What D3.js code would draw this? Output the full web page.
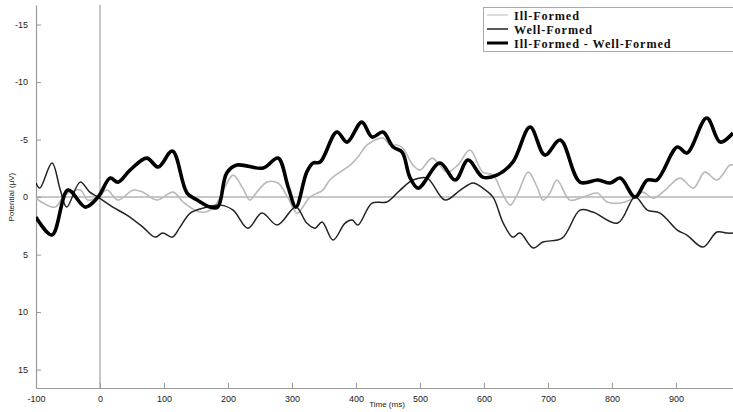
<!DOCTYPE html>
<html>
<head>
<meta charset="utf-8">
<script src="https://cdn.jsdelivr.net/npm/d3@7"></script>
<style>
  body { margin: 0; background: #fff; }
  svg { display: block; }
  .tick text { font-family: Arial, 'Liberation Sans', sans-serif; }
</style>
</head>
<body>
<div id="chart"></div>
<script>
// time (ms) / potential (µV)
const illTimes = [-100, -89, -70, -55, -31, -19, -3, 11, 28, 52, 67, 89, 114, 130, 156, 177, 195, 208, 223, 234, 245, 261, 278, 294, 308, 328, 348, 359, 375, 391, 403, 417, 442, 453, 464, 473, 489, 500, 519, 542, 559, 578, 598, 614, 630, 641, 653, 669, 683, 692, 703, 714, 734, 755, 777, 792, 813, 828, 836, 848, 864, 883, 906, 927, 945, 964, 984, 989]
const illValues = [0.09, 0.52, 0.87, -0.17, -0.61, 0.26, 0, -0.61, 0.26, -0.61, -0.43, 0.26, -0.43, 0.43, 1.30, 0.96, -0.87, -1.91, -0.78, 0.26, -0.43, -1.30, -1.22, 0.09, 1.39, 0, -0.61, -1.48, -2.17, -2.78, -3.48, -4.52, -5.13, -4.52, -4.52, -4.26, -2.78, -2.35, -3.39, -2.17, -2.78, -4.09, -2.17, -1.91, -0.17, 0.70, -0.35, -2.17, -0.87, 0.26, -0.35, -1.48, 0.26, 0, -0.35, 0.43, 0.52, 0.26, 0, -0.43, 0.09, -0.61, -1.65, -0.78, -2.17, -1.48, -2.78, -2.78]

const wellTimes = [-100, -94, -75, -62, -52, -31, -16, -3, 20, 42, 67, 86, 98, 113, 125, 141, 161, 188, 208, 231, 253, 277, 306, 323, 336, 347, 364, 383, 394, 403, 425, 448, 469, 489, 511, 539, 563, 583, 598, 614, 630, 645, 656, 677, 692, 722, 750, 770, 809, 836, 855, 875, 902, 917, 942, 964, 980, 989]
const wellValues = [-1.22, -0.78, -2.96, -0.61, 0.87, -1.30, -0.43, 0, 0.87, 1.57, 2.61, 3.48, 3.13, 3.48, 2.61, 1.39, 0.96, 0.70, 1.13, 2.70, 1.39, 2.43, 0.87, 2.26, 2.70, 2.17, 3.74, 2.26, 2.00, 2.43, 0.52, 0.43, -0.61, -1.48, -1.65, 0.26, -0.61, -1.22, -0.78, 0, 2.26, 3.48, 3.13, 4.43, 3.91, 3.57, 1.13, 1.30, 2.26, 0, 1.13, 1.39, 2.87, 3.30, 4.35, 3.04, 3.13, 3.13]

const diffTimes = [-100, -75, -50, -23, -3, 16, 28, 47, 73, 91, 113, 136, 152, 172, 184, 198, 214, 255, 278, 294, 306, 323, 333, 344, 370, 386, 409, 425, 442, 458, 472, 484, 497, 531, 555, 575, 598, 620, 645, 672, 695, 719, 750, 778, 797, 813, 836, 855, 870, 902, 917, 948, 969, 989]
const diffValues = [1.74, 3.30, -0.61, 0.87, 0, -1.65, -1.30, -2.35, -3.39, -2.61, -4.00, -0.35, 0.26, 0.87, 0.87, -2.09, -2.78, -2.52, -3.39, -0.87, 0.87, -2.17, -2.96, -3.04, -5.65, -4.78, -6.52, -5.22, -5.65, -4.35, -3.91, -1.74, -0.78, -2.96, -1.48, -3.22, -1.74, -1.91, -3.04, -6.09, -3.65, -4.96, -1.30, -1.48, -1.22, -1.65, 0, -1.48, -1.48, -4.35, -3.83, -6.87, -4.78, -5.57]

const xTicks = [-100, 0, 100, 200, 300, 400, 500, 600, 700, 800, 900]
const yTicks = [-15, -10, -5, 0, 5, 10, 15]
const legendLabels = ['Ill-Formed', 'Well-Formed', 'Ill-Formed - Well-Formed']

const width = 733
const height = 412
const plot = { left: 36, right: 733, top: 5, bottom: 388 }

const svg = d3.select('#chart')
  .append('svg')
  .attr('width', width)
  .attr('height', height)

const xScale = d3.scaleLinear()
  .domain([-100, 989])
  .range([plot.left, plot.right])

const yScale = d3.scaleLinear()
  .domain([-16.7, 16.6])
  .range([plot.top, plot.bottom])

svg.append('clipPath')
  .attr('id', 'clip')
  .append('rect')
  .attr('x', plot.left)
  .attr('y', plot.top)
  .attr('width', plot.right - plot.left)
  .attr('height', plot.bottom - plot.top)

// reference lines at 0 ms and 0 µV
svg.append('line')
  .attr('x1', xScale(0)).attr('x2', xScale(0))
  .attr('y1', plot.top).attr('y2', plot.bottom)
  .attr('stroke', '#b5b5b5').attr('stroke-width', 1.5)

svg.append('line')
  .attr('x1', plot.left).attr('x2', plot.right)
  .attr('y1', yScale(0)).attr('y2', yScale(0))
  .attr('stroke', '#b5b5b5').attr('stroke-width', 1.5)

// axes (plain hyphen for negatives, like the original)
const xAxis = d3.axisBottom(xScale)
  .tickValues(xTicks)
  .tickFormat(d => String(d))
  .tickSize(-5)
  .tickPadding(8)
  .tickSizeOuter(0)

const xAxisGroup = svg.append('g')
  .attr('transform', `translate(0, ${plot.bottom})`)
  .call(xAxis)
xAxisGroup.select('.domain').attr('stroke', '#9a9a9a').attr('stroke-width', 1.2)
xAxisGroup.selectAll('.tick line').attr('stroke', '#9a9a9a')
xAxisGroup.selectAll('.tick text').attr('font-size', 9).attr('fill', '#222')

const yAxis = d3.axisLeft(yScale)
  .tickValues(yTicks)
  .tickFormat(d => String(d))
  .tickSize(-5)
  .tickPadding(8)
  .tickSizeOuter(0)

const yAxisGroup = svg.append('g')
  .attr('transform', `translate(${plot.left}, 0)`)
  .call(yAxis)
yAxisGroup.select('.domain').attr('stroke', '#9a9a9a').attr('stroke-width', 1.2)
yAxisGroup.selectAll('.tick line').attr('stroke', '#9a9a9a')
yAxisGroup.selectAll('.tick text').attr('font-size', 9).attr('fill', '#222')

svg.append('text')
  .attr('x', xScale(400) + 31)
  .attr('y', 407)
  .attr('text-anchor', 'middle')
  .attr('font-family', 'Arial, Liberation Sans, sans-serif')
  .attr('font-size', 8)
  .attr('fill', '#222')
  .text('Time (ms)')

svg.append('text')
  .attr('transform', `translate(14, ${yScale(0)}) rotate(-90)`)
  .attr('text-anchor', 'middle')
  .attr('font-family', 'Arial, Liberation Sans, sans-serif')
  .attr('font-size', 8)
  .attr('fill', '#222')
  .text('Potential (\u03bcV)')

// waveforms
const series = [
  { times: illTimes, values: illValues, color: '#b9b9b9', width: 1.6, legendWidth: 1 },
  { times: wellTimes, values: wellValues, color: '#222', width: 1.5, legendWidth: 1.5 },
  { times: diffTimes, values: diffValues, color: '#000', width: 3.6, legendWidth: 3 },
]

const line = d3.line()
  .x(d => xScale(d[0]))
  .y(d => yScale(d[1]))
  .curve(d3.curveCatmullRom.alpha(0.5))

const lines = svg.append('g').attr('clip-path', 'url(#clip)')
series.forEach(s => {
  lines.append('path')
    .datum(d3.zip(s.times, s.values))
    .attr('d', line)
    .attr('fill', 'none')
    .attr('stroke', s.color)
    .attr('stroke-width', s.width)
    .attr('stroke-linejoin', 'round')
})

// legend
const legend = svg.append('g')
legend.append('rect')
  .attr('x', 483.5).attr('y', 7.5)
  .attr('width', 260).attr('height', 44)
  .attr('fill', '#fff')
  .attr('stroke', '#aaa')

series.forEach((s, i) => {
  const y = 15 + i * 14
  legend.append('line')
    .attr('x1', 487).attr('x2', 508)
    .attr('y1', y).attr('y2', y)
    .attr('stroke', s.color)
    .attr('stroke-width', s.legendWidth)
  legend.append('text')
    .attr('x', 514)
    .attr('y', y + 4.5)
    .attr('font-family', 'Liberation Serif, Times New Roman, serif')
    .attr('font-weight', 'bold')
    .attr('font-size', 12.2)
    .attr('letter-spacing', 0.9)
    .attr('fill', '#111')
    .text(legendLabels[i])
})
</script>
</body>
</html>
